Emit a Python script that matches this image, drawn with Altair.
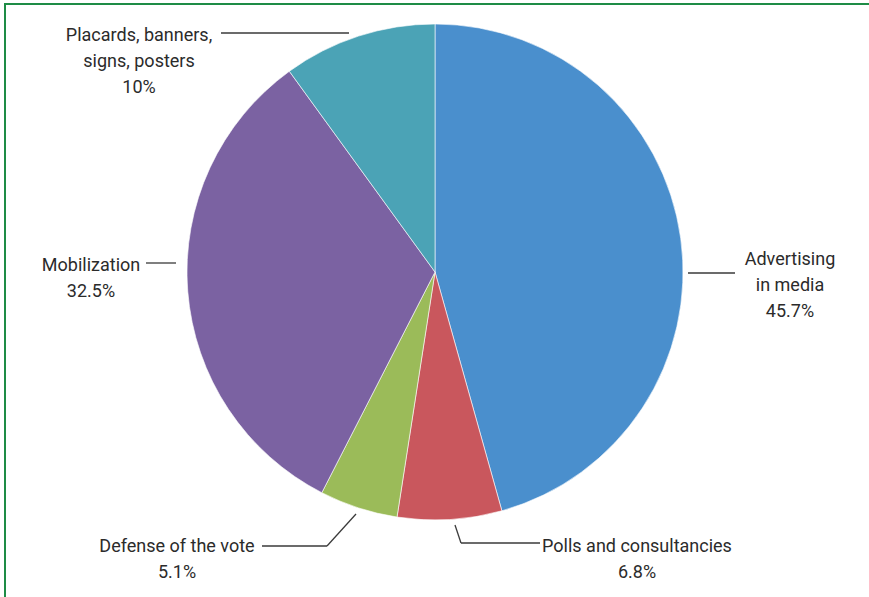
import altair as alt
import pandas as pd

# Data
categories = ["Advertising in media", "Polls and consultancies", "Defense of the vote",
              "Mobilization", "Placards, banners, signs, posters"]
shares = [45.7, 6.8, 5.1, 32.5, 10.0]
pct_labels = ["45.7%", "6.8%", "5.1%", "32.5%", "10%"]
label_lines = ["Advertising\nin media", "Polls and consultancies", "Defense of the vote",
               "Mobilization", "Placards, banners,\nsigns, posters"]
colors = ["#4a8fcd", "#c9575d", "#9bbb59", "#7b62a2", "#4ba3b6"]

# Layout (pixels)
CX, CY, R = 435, 272, 248
label_x = [790, 637, 177, 91, 139]
label_y = [265, 552, 552, 271, 41]
seg_x = [688, 455, 461, 356, 327, 146, 221]
seg_y = [273, 525, 543, 514, 546, 263, 33]
seg_x2 = [735, 461, 540, 327, 262, 176, 349]
seg_y2 = [273, 543, 543, 546, 546, 263, 33]

FONT = "Roboto"

pie_df = pd.DataFrame({"cat": categories, "share": shares, "order": list(range(len(categories)))})
lab_df = pd.DataFrame({
    "text": [f"{a}\n{b}" for a, b in zip(label_lines, pct_labels)],
    "x": label_x, "y": label_y,
})
seg_df = pd.DataFrame({"x": seg_x, "y": seg_y, "x2": seg_x2, "y2": seg_y2})
frame_df = pd.DataFrame({"a": [0]})

pie = alt.Chart(pie_df).mark_arc(outerRadius=R, stroke="white", strokeWidth=0.6).encode(
    theta=alt.Theta("share:Q", stack=True),
    order=alt.Order("order:Q"),
    color=alt.Color("cat:N", scale=alt.Scale(domain=categories, range=colors), legend=None),
    x=alt.value(CX), y=alt.value(CY),
)

segs = alt.Chart(seg_df).mark_rule(color="#3a3a3a", strokeWidth=1.3).encode(
    x=alt.X("x:Q", scale=None), y=alt.Y("y:Q", scale=None),
    x2="x2:Q", y2="y2:Q",
)

labels = alt.Chart(lab_df).mark_text(
    font=FONT, fontSize=18, color="#2b2b2b", align="center", baseline="alphabetic",
    lineBreak="\n", lineHeight=26,
).encode(
    x=alt.X("x:Q", scale=None), y=alt.Y("y:Q", scale=None), text="text:N",
)

frame = alt.Chart(frame_df).mark_rect(fill=None, stroke="#1e8c46", strokeWidth=2).encode(
    x=alt.value(5), y=alt.value(4), x2=alt.value(920), y2=alt.value(650),
)

chart = alt.layer(frame, pie, segs, labels).properties(
    width=869, height=597, padding=0, autosize=alt.AutoSizeParams(type="none"),
    background="white",
).configure_view(stroke=None)

chart.save("out.html", embed_options={"renderer": "svg", "actions": False})
